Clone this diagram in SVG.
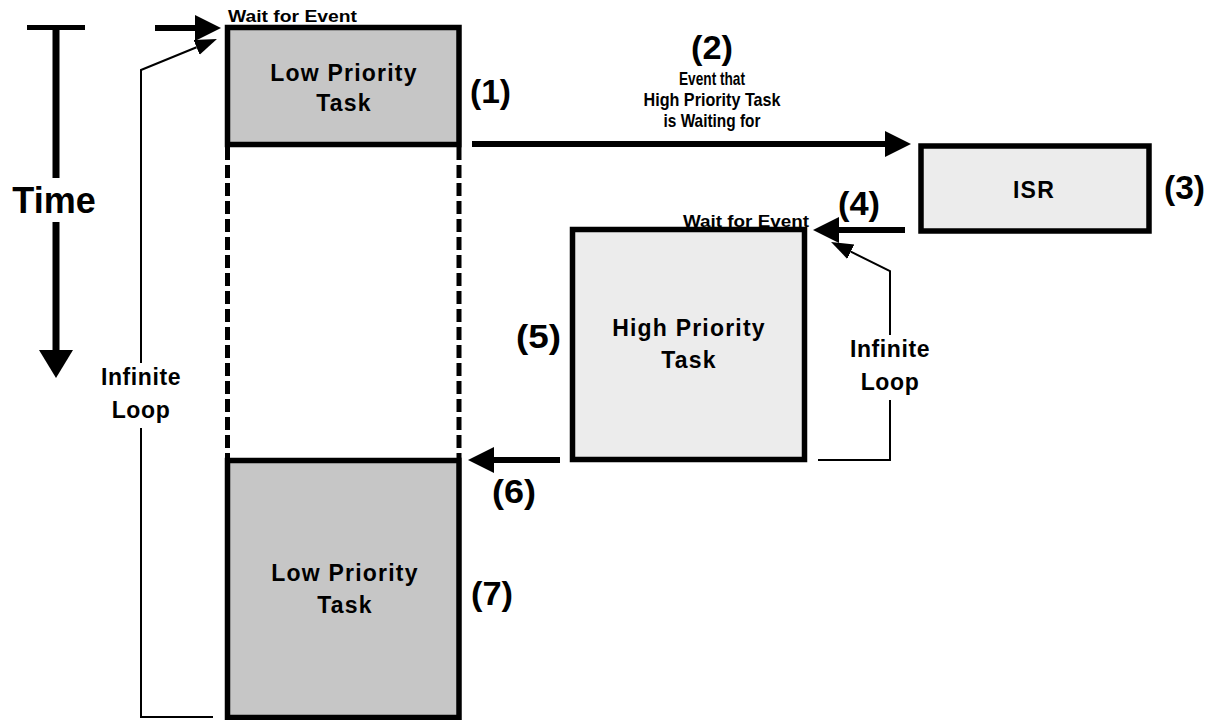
<svg xmlns="http://www.w3.org/2000/svg" width="1220" height="720" viewBox="0 0 1220 720">
  <style>
    text { font-family: "Liberation Sans", Arial, sans-serif; font-weight: bold; fill: #000; }
    .box-low { fill: #c6c6c6; stroke: #000; stroke-width: 5.5; }
    .box-high { fill: #ececec; stroke: #000; stroke-width: 5.5; }
    .label { font-size: 23px; letter-spacing: 1.2px; text-anchor: middle; }
    .num { font-size: 34px; }
    .small { font-size: 16px; }
    .note { font-size: 19px; text-anchor: middle; }
    .loop { font-size: 23px; letter-spacing: 0.6px; text-anchor: middle; }
    .thick { fill: none; stroke: #000; stroke-width: 6; }
    .thin { fill: none; stroke: #000; stroke-width: 2; }
    .dash { fill: none; stroke: #000; stroke-width: 5; stroke-dasharray: 13 5; }
  </style>
  <defs>
    <marker id="head" markerUnits="userSpaceOnUse" markerWidth="27" markerHeight="28" refX="0" refY="14" orient="auto">
      <path d="M0,1 L26,14 L0,27 z" fill="#000"/>
    </marker>
    <marker id="headBig" markerUnits="userSpaceOnUse" markerWidth="29" markerHeight="36" refX="0" refY="18" orient="auto">
      <path d="M0,1 L28,18 L0,35 z" fill="#000"/>
    </marker>
    <marker id="headThin" markerUnits="userSpaceOnUse" markerWidth="23" markerHeight="18" refX="0" refY="9" orient="auto">
      <path d="M0,1 L22,9 L0,17 z" fill="#000"/>
    </marker>
  </defs>

  <!-- time axis -->
  <g id="time-axis">
    <line x1="27" y1="27.5" x2="85" y2="27.5" stroke="#000" stroke-width="5"/>
    <line x1="56" y1="27" x2="56" y2="178" stroke="#000" stroke-width="7"/>
    <line x1="56" y1="222" x2="56" y2="350" stroke="#000" stroke-width="7" marker-end="url(#headBig)"/>
    <text x="54" y="213" font-size="36" text-anchor="middle">Time</text>
  </g>

  <!-- low priority task, first run -->
  <g id="low-task-1">
    <rect class="box-low" x="227.5" y="27.5" width="231.5" height="117"/>
    <text class="label" x="344" y="81">Low Priority</text>
    <text class="label" x="344" y="111">Task</text>
    <text class="small" x="228" y="22" textLength="129" lengthAdjust="spacingAndGlyphs">Wait for Event</text>
    <text class="num" x="470" y="103" textLength="41" lengthAdjust="spacingAndGlyphs">(1)</text>
  </g>

  <!-- preempted span of the low priority task -->
  <g id="low-task-preempted">
    <line class="dash" x1="227.5" y1="147" x2="227.5" y2="458"/>
    <line class="dash" x1="459" y1="147" x2="459" y2="458"/>
  </g>

  <!-- interrupt service routine -->
  <g id="isr">
    <rect class="box-high" x="921" y="146" width="228" height="85"/>
    <text class="label" x="1034" y="198">ISR</text>
    <text class="num" x="1164" y="199" textLength="41" lengthAdjust="spacingAndGlyphs">(3)</text>
  </g>

  <!-- high priority task -->
  <g id="high-task">
    <rect class="box-high" x="572.5" y="229.5" width="232" height="230"/>
    <text class="label" x="689" y="336">High Priority</text>
    <text class="label" x="689" y="368">Task</text>
    <text class="small" x="683" y="227" textLength="126" lengthAdjust="spacingAndGlyphs">Wait for Event</text>
    <text class="num" x="516" y="348" textLength="45" lengthAdjust="spacingAndGlyphs">(5)</text>
  </g>

  <!-- low priority task, resumed -->
  <g id="low-task-2">
    <rect class="box-low" x="227.5" y="460.5" width="231.5" height="257"/>
    <text class="label" x="345" y="581">Low Priority</text>
    <text class="label" x="345" y="613">Task</text>
    <text class="num" x="471" y="605" textLength="42" lengthAdjust="spacingAndGlyphs">(7)</text>
  </g>

  <!-- flow arrows and loops -->
  <g id="connectors">
    <!-- entry into the low priority task -->
    <line class="thick" x1="155" y1="28" x2="195" y2="28" marker-end="url(#head)"/>

    <!-- (2) event raised toward the ISR -->
    <line class="thick" x1="472" y1="144" x2="885" y2="144" marker-end="url(#head)"/>
    <text class="num" x="712" y="59" text-anchor="middle" textLength="42" lengthAdjust="spacingAndGlyphs">(2)</text>
    <text class="note" x="712" y="85" textLength="66" lengthAdjust="spacingAndGlyphs">Event that</text>
    <text class="note" x="712" y="106" textLength="137" lengthAdjust="spacingAndGlyphs">High Priority Task</text>
    <text class="note" x="712" y="127" textLength="97" lengthAdjust="spacingAndGlyphs">is Waiting for</text>

    <!-- (4) ISR signals the high priority task -->
    <line class="thick" x1="905" y1="230" x2="839" y2="230" marker-end="url(#head)"/>
    <text class="num" x="838" y="215" textLength="42" lengthAdjust="spacingAndGlyphs">(4)</text>

    <!-- (6) return to the low priority task -->
    <line class="thick" x1="560" y1="460" x2="494" y2="460" marker-end="url(#head)"/>
    <text class="num" x="492" y="503" textLength="44" lengthAdjust="spacingAndGlyphs">(6)</text>

    <!-- low priority infinite loop -->
    <path class="thin" d="M213,717 H141 V428"/>
    <path class="thin" d="M141,363 V70 L196.6,47.3" marker-end="url(#headThin)"/>
    <text class="loop" x="141" y="385">Infinite</text>
    <text class="loop" x="141" y="418">Loop</text>

    <!-- high priority infinite loop -->
    <path class="thin" d="M818,460 H890 V400"/>
    <path class="thin" d="M890,335 V271 L850.8,251.7" marker-end="url(#headThin)"/>
    <text class="loop" x="890" y="357">Infinite</text>
    <text class="loop" x="890" y="390">Loop</text>
  </g>
</svg>
